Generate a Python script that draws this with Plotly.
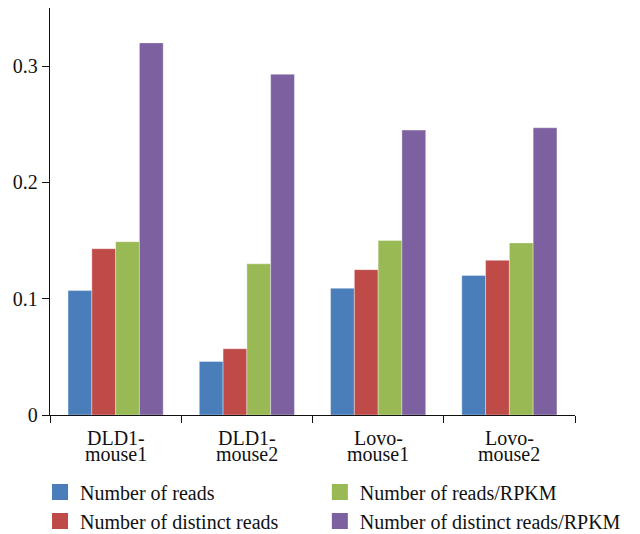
import plotly.graph_objects as go

# Samples on the x axis; each name is shown on two lines, split after the hyphen
categories = ["DLD1-mouse1", "DLD1-mouse2", "Lovo-mouse1", "Lovo-mouse2"]

# Correlation values per metric
reads = [0.107, 0.046, 0.109, 0.120]
distinct_reads = [0.143, 0.057, 0.125, 0.133]
reads_rpkm = [0.149, 0.130, 0.150, 0.148]
distinct_reads_rpkm = [0.320, 0.293, 0.245, 0.247]

y_ticks = [0, 0.1, 0.2, 0.3]
y_tick_text = ["0", "0.1", "0.2", "0.3"]

# name, values, colour, legend column
series = [
    ("Number of reads", reads, "#4A7EBB", "legend"),
    ("Number of distinct reads", distinct_reads, "#BE4B48", "legend"),
    ("Number of reads/RPKM", reads_rpkm, "#98B954", "legend2"),
    ("Number of distinct reads/RPKM", distinct_reads_rpkm, "#7D60A0", "legend2"),
]

font_family = "Liberation Serif, DejaVu Serif, serif"
text_color = "#111111"
fs = 20

fig = go.Figure()
for name, vals, color, leg in series:
    fig.add_trace(go.Bar(
        x=categories, y=vals, name=name, showlegend=False,
        marker=dict(color=color, line=dict(color="rgba(255,255,255,0.6)", width=0.6)),
    ))
    # square swatch used only for the legend
    fig.add_trace(go.Scatter(
        x=[None], y=[None], mode="markers", name=name, legend=leg,
        marker=dict(symbol="square", size=16, color=color),
    ))

# two-line category labels with tight line spacing
for cat in categories:
    head, tail = cat.split("-", 1)
    for text, shift in ((head + "-", -23), (tail, -39)):
        fig.add_annotation(
            x=cat, y=0, xref="x", yref="y", text=text, showarrow=False,
            yanchor="middle", xanchor="center", yshift=shift,
            font=dict(family=font_family, size=fs, color=text_color),
        )

legend_style = dict(
    orientation="v", yanchor="top", xanchor="left", y=-0.141,
    itemsizing="trace", tracegroupgap=0,
    font=dict(family=font_family, size=fs, color=text_color),
    bgcolor="rgba(0,0,0,0)", itemclick=False,
)

fig.update_layout(
    width=640, height=534,
    margin=dict(l=50, r=65, t=8, b=119, autoexpand=False),
    paper_bgcolor="white", plot_bgcolor="white",
    barmode="group", bargap=0.275, bargroupgap=0,
    font=dict(family=font_family, size=fs, color=text_color),
    showlegend=True,
    legend=dict(x=-0.019, **legend_style),
    legend2=dict(x=0.514, **legend_style),
    xaxis=dict(
        showline=True, linecolor=text_color, linewidth=1.3,
        ticks="outside", tickson="boundaries", ticklen=7, tickcolor=text_color,
        showgrid=False, zeroline=False, showticklabels=False,
    ),
    yaxis=dict(
        range=[0, 0.35], showline=True, linecolor=text_color, linewidth=1.3,
        ticks="outside", ticklen=7, tickcolor=text_color,
        tickvals=y_ticks, ticktext=y_tick_text,
        showgrid=False, zeroline=False,
        tickfont=dict(family=font_family, size=fs, color=text_color),
    ),
)

fig.write_html("out.html")
